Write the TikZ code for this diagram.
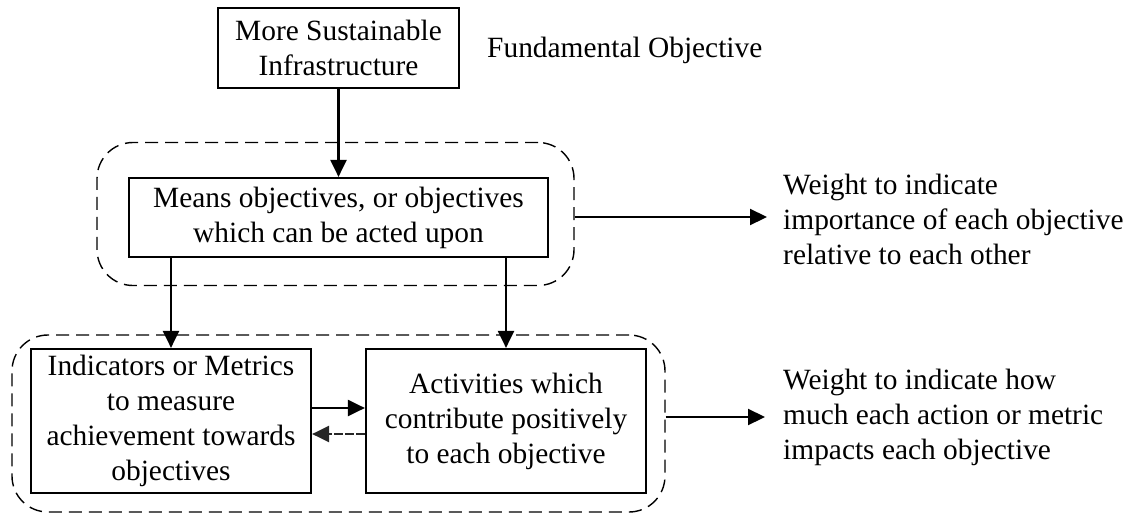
\documentclass[tikz,border=0pt]{standalone}
\usepackage{fontspec}
\setmainfont{Liberation Serif}
\usetikzlibrary{arrows.meta,calc}
\begin{document}
\begin{tikzpicture}[x=1pt,y=-1pt,
  txt/.style={font=\fontsize{29.4}{35}\selectfont, align=center, inner sep=0pt},
  boxn/.style={draw, line width=2.2pt, txt},
  grp/.style={draw, line width=1.4pt, dash pattern=on 13pt off 7pt, rounded corners=36pt, inner sep=0pt},
  arr/.style={line width=2.2pt, -{Triangle[length=17pt,width=16pt]}},
  backarr/.style={line width=2.4pt, draw=black!85, dash pattern=on 9pt off 2pt, -{Triangle[length=17pt,width=16pt]}}
]
\useasboundingbox (0,0) rectangle (1124,514);

\node[grp, minimum width=477pt, minimum height=143pt] (d1) at (335.5,214) {};
\node[grp, minimum width=653pt, minimum height=177pt] (d2) at (338.5,423.5) {};

\node[boxn, minimum width=241pt, minimum height=80pt] (top) at (338.5,48) {More Sustainable\\Infrastructure};
\node[txt, anchor=west] (fund) at (487,50) {Fundamental Objective};

\node[boxn, minimum width=419pt, minimum height=79pt] (means) at (338.5,217.5) {Means objectives, or objectives\\which can be acted upon};

\node[boxn, minimum width=280pt, minimum height=144pt] (left) at (171,421) {Indicators or Metrics\\to measure\\achievement towards\\objectives};
\node[boxn, minimum width=280pt, minimum height=144pt] (right) at (506,421) {Activities which\\contribute positively\\to each objective};

\node[txt, anchor=west, align=left] (w1) at (783,219) {Weight to indicate\\importance of each objective\\relative to each other};
\node[txt, anchor=west, align=left] (w2) at (783,417) {Weight to indicate how\\much each action or metric\\impacts each objective};

\draw[arr] (top.south) -- (means.north);
\draw[arr] (means.south -| left.north) -- (left.north);
\draw[arr] (means.south -| right.north) -- (right.north);
\draw[arr] ($(left.east)+(0,-13)$) -- ($(right.west)+(0,-13)$);
\draw[backarr] ($(right.west)+(0,13)$) -- ($(left.east)+(0,13)$);

\coordinate (e1) at ($(w1.west)+(-16,-2)$);
\coordinate (e2) at ($(w2.west)+(-18,0)$);
\draw[arr] (d1.east |- e1) -- (e1);
\draw[arr] (d2.east |- e2) -- (e2);
\end{tikzpicture}
\end{document}
